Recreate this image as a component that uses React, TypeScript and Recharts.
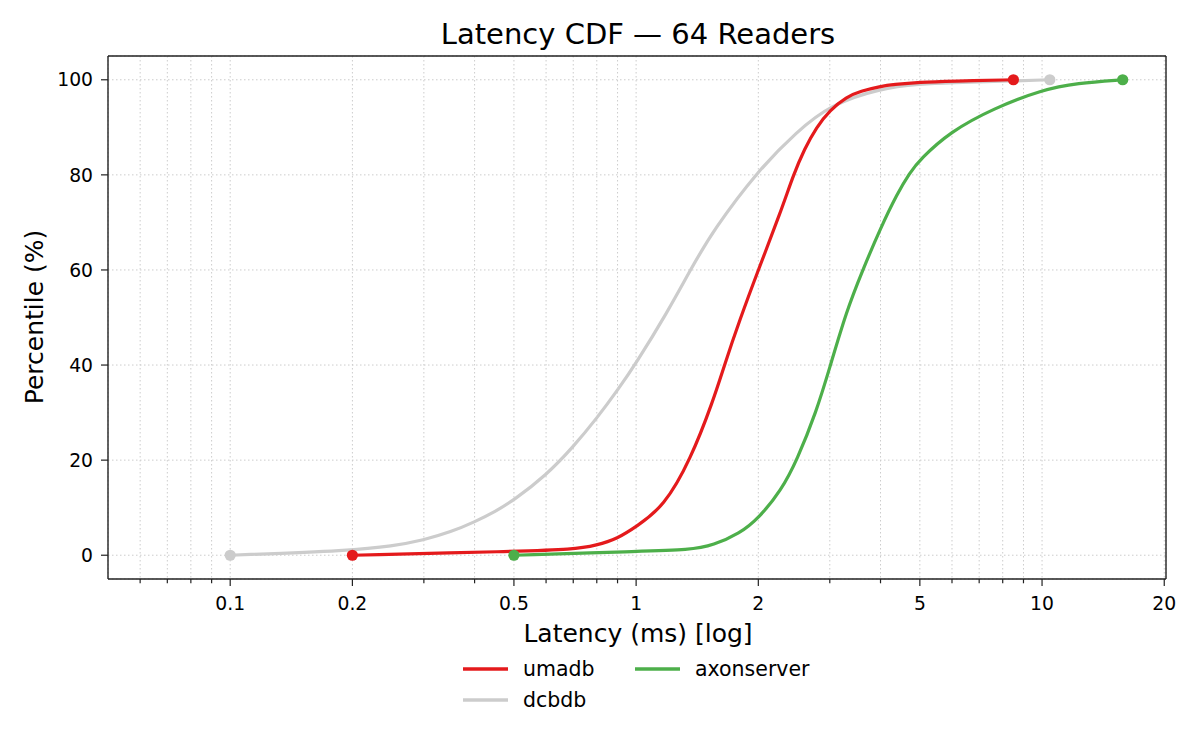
import { CartesianGrid, Line, LineChart, XAxis, YAxis } from "recharts";

// latency (ms) / percentile pairs
const umadbMs = [0.2, 0.5, 0.7, 0.8, 0.9, 1.0, 1.17, 1.36, 1.55, 1.65, 1.8, 2.0, 2.28, 2.44, 2.6, 2.78, 3.0, 3.3, 3.57, 4.0, 4.3, 5.0, 6.0, 8.5];
const umadbPct = [0, 0.8, 1.2, 2.1, 3.5, 6.0, 10.2, 20.0, 32.6, 40.0, 49.5, 60.0, 72.6, 80.0, 85.5, 90.0, 93.6, 96.4, 97.6, 98.6, 99.0, 99.5, 99.7, 100];

const dcbdbMs = [0.1, 0.2, 0.25, 0.3, 0.35, 0.4, 0.45, 0.5, 0.6, 0.7, 0.8, 0.9, 1.0, 1.19, 1.36, 1.55, 2.0, 2.49, 3.0, 4.0, 5.0, 6.0, 8.0, 10.45];
const dcbdbPct = [0, 1.0, 1.9, 3.2, 4.9, 7.0, 9.2, 11.6, 16.8, 22.8, 28.8, 34.7, 40.4, 50.9, 60.0, 68.4, 81.0, 89.1, 94.7, 98.2, 99.1, 99.4, 99.7, 100];

const axonMs = [0.5, 1.0, 1.36, 1.55, 1.8, 2.0, 2.28, 2.49, 2.78, 3.0, 3.3, 3.6, 4.0, 4.4, 4.72, 5.0, 5.94, 7.6, 10.0, 12.2, 15.8];
const axonPct = [0, 0.8, 1.1, 2.1, 4.6, 7.7, 13.7, 20.0, 30.2, 39.5, 51.4, 59.6, 68.8, 76.1, 80.4, 83.2, 89.1, 94.0, 97.9, 99.3, 100];

const majorTicks = [0.1, 0.2, 0.5, 1, 2, 5, 10, 20];
const minorTicks = [0.06, 0.07, 0.08, 0.09, 0.3, 0.4, 0.6, 0.7, 0.8, 0.9, 3, 4, 6, 7, 8, 9];
const yTicks = [0, 20, 40, 60, 80, 100];

const xTicks = [...majorTicks, ...minorTicks].sort((a, b) => a - b);

const toPoints = (xs: number[], ys: number[]) => xs.map((x, i) => ({ x, y: ys[i] }));

const series = [
  { name: "dcbdb", color: "#cccccc", data: toPoints(dcbdbMs, dcbdbPct) },
  { name: "umadb", color: "#e41a1c", data: toPoints(umadbMs, umadbPct) },
  { name: "axonserver", color: "#4daf4a", data: toPoints(axonMs, axonPct) },
];
const legendOrder = ["umadb", "dcbdb", "axonserver"];

const FONT = "DejaVu Sans";
const INK = "#222222";

function XTick(props: any) {
  const { x, y, payload } = props;
  const v = payload.value as number;
  const major = majorTicks.includes(v);
  return (
    <g>
      <line x1={x} x2={x} y1={y} y2={y + (major ? 7 : 4.3)} stroke={INK} strokeWidth={1.2} />
      {major && (
        <text x={x} y={y + 31} textAnchor="middle" fontFamily={FONT} fontSize={18.75} fill="#000">
          {String(v)}
        </text>
      )}
    </g>
  );
}

const endDots = (color: string, count: number) => (props: any) => {
  const { cx, cy, index } = props;
  if (index !== 0 && index !== count - 1) return <g key={`d${index}`} />;
  return <circle key={`d${index}`} cx={cx} cy={cy} r={5.6} fill={color} stroke="none" />;
};

export default function App() {
  return (
    <div style={{ position: "absolute", left: 0, top: 0, width: 1200, height: 750, background: "#fff" }}>
      <LineChart width={1200} height={750} margin={{ top: 55, right: 33, bottom: 131, left: 48 }}>
        <CartesianGrid stroke="#cccccc" strokeDasharray="1.5 2.5" strokeWidth={1} />
        <XAxis
          dataKey="x"
          type="number"
          scale="log"
          domain={[0.05, 20.2]}
          allowDataOverflow
          ticks={xTicks}
          interval={0}
          tickSize={0}
          tickMargin={0}
          tickLine={false}
          tick={<XTick />}
          height={40}
          axisLine={{ stroke: INK, strokeWidth: 1.4 }}
        />
        <XAxis
          xAxisId="top"
          orientation="top"
          type="number"
          domain={[0, 1]}
          height={1}
          tick={false}
          tickLine={false}
          axisLine={{ stroke: INK, strokeWidth: 1.4 }}
        />
        <YAxis
          type="number"
          domain={[-5, 105]}
          allowDataOverflow
          ticks={yTicks}
          interval={0}
          width={60}
          tickSize={7}
          tickMargin={8}
          tickLine={{ stroke: INK, strokeWidth: 1.2 }}
          axisLine={{ stroke: INK, strokeWidth: 1.4 }}
          tick={{ fill: "#000", fontSize: 18.75, fontFamily: FONT }}
        />
        <YAxis
          yAxisId="right"
          orientation="right"
          type="number"
          domain={[0, 1]}
          width={1}
          tick={false}
          tickLine={false}
          axisLine={{ stroke: INK, strokeWidth: 1.4 }}
        />
        {series.map((s) => (
          <Line
            key={s.name}
            name={s.name}
            data={s.data}
            dataKey="y"
            type="basis"
            stroke={s.color}
            strokeWidth={3.2}
            dot={endDots(s.color, s.data.length)}
            activeDot={false}
            isAnimationActive={false}
          />
        ))}
      </LineChart>
      <svg
        width={1200}
        height={750}
        style={{ position: "absolute", left: 0, top: 0, pointerEvents: "none" }}
        fontFamily={FONT}
      >
        <text x={638} y={44} textAnchor="middle" fontSize={29}>
          Latency CDF — 64 Readers
        </text>
        <text x={638} y={642} textAnchor="middle" fontSize={25}>
          Latency (ms) [log]
        </text>
        <text transform="translate(43,317) rotate(-90)" textAnchor="middle" fontSize={25}>
          Percentile (%)
        </text>
        {legendOrder.map((name, i) => {
          const s = series.find((d) => d.name === name)!;
          const lx = 463 + Math.floor(i / 2) * 172;
          const ly = 669 + (i % 2) * 31;
          return (
            <g key={name}>
              <line x1={lx} x2={lx + 45} y1={ly} y2={ly} stroke={s.color} strokeWidth={3.4} />
              <text x={lx + 60} y={ly + 7} fontSize={20.5}>
                {name}
              </text>
            </g>
          );
        })}
      </svg>
    </div>
  );
}
